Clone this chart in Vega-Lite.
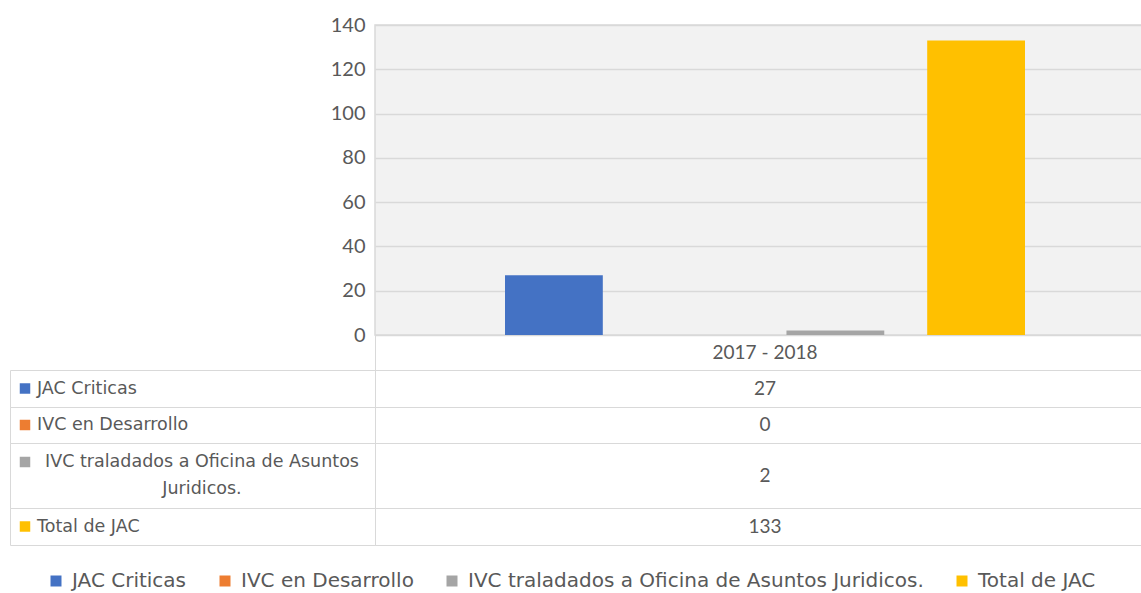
{
  "$schema": "https://vega.github.io/schema/vega-lite/v6.json",
  "padding": {"left": 9, "top": 14, "right": 0, "bottom": 5},
  "background": "white",
  "datasets": {
    "d": [
      {"periodo": "2017 - 2018", "serie": "JAC Criticas", "etiqueta": "JAC Criticas", "valor": 27},
      {"periodo": "2017 - 2018", "serie": "IVC en Desarrollo", "etiqueta": "IVC en Desarrollo", "valor": 0},
      {"periodo": "2017 - 2018", "serie": "IVC traladados a Oficina de Asuntos Juridicos.", "etiqueta": "IVC traladados a Oficina de Asuntos\nJuridicos.", "valor": 2},
      {"periodo": "2017 - 2018", "serie": "Total de JAC", "etiqueta": "Total de JAC", "valor": 133}
    ]
  },
  "columns": 2,
  "spacing": 0,
  "bounds": "flush",
  "concat": [
    {
      "width": 365, "height": 310,
      "view": {"stroke": null},
      "data": {"values": []},
      "mark": "text",
      "encoding": {}
    },
    {
      "width": 780, "height": 310,
      "view": {"fill": "#f2f2f2", "stroke": "#d9d9d9"},
      "data": {"name": "d"},
      "mark": {"type": "bar"},
      "encoding": {
        "x": {"field": "periodo", "type": "nominal", "scale": {"paddingInner": 0, "paddingOuter": 0.25}, "axis": null},
        "xOffset": {"field": "serie", "type": "nominal", "sort": ["JAC Criticas", "IVC en Desarrollo", "IVC traladados a Oficina de Asuntos Juridicos.", "Total de JAC"], "scale": {"paddingInner": 0.305, "paddingOuter": 0}},
        "y": {"field": "valor", "type": "quantitative", "scale": {"domain": [0, 140]},
          "axis": {"values": [0, 20, 40, 60, 80, 100, 120, 140], "title": null, "domain": false, "ticks": false, "labelPadding": 10, "labelFontSize": 20, "labelColor": "#595959", "labelFont": "Lato", "gridColor": "#d9d9d9", "gridWidth": 1.5}},
        "color": {"field": "serie", "type": "nominal",
          "scale": {"domain": ["JAC Criticas", "IVC en Desarrollo", "IVC traladados a Oficina de Asuntos Juridicos.", "Total de JAC"], "range": ["#4472C4", "#ED7D31", "#A5A5A5", "#FFC000"]},
          "legend": {"title": null, "orient": "none", "legendX": 36, "legendY": 546, "direction": "horizontal", "symbolType": "square", "symbolSize": 121, "labelFontSize": 20, "labelColor": "#595959", "labelFont": "DejaVu Sans", "labelLimit": 800, "columnPadding": 28, "labelOffset": 6, "symbolStrokeWidth": 0}}
      }
    },
    {
      "width": 365, "height": 35,
      "view": {"stroke": null},
      "data": {"values": []},
      "mark": "text",
      "encoding": {}
    },
    {
      "width": 780, "height": 35,
      "view": {"stroke": "#d9d9d9"},
      "data": {"name": "d"},
      "transform": [{"filter": "datum.serie === 'JAC Criticas'"}],
      "mark": {"type": "text", "x": 390, "y": 18, "align": "center", "baseline": "middle", "fontSize": 19, "font": "Lato", "color": "#595959"},
      "encoding": {"text": {"field": "periodo"}}
    },
    {
      "width": 365, "height": 37,
      "view": {"stroke": "#d9d9d9"},
      "data": {"name": "d"},
      "transform": [{"filter": "datum.serie === 'JAC Criticas'"}],
      "layer": [
        {"mark": {"type": "square", "x": 15, "y": 18.5, "size": 110, "opacity": 1},
         "encoding": {"color": {"field": "serie", "type": "nominal"}}},
        {"mark": {"type": "text", "x": 27, "y": 18.5, "align": "left", "baseline": "middle", "fontSize": 17.5, "font": "DejaVu Sans", "color": "#595959"},
         "encoding": {"text": {"field": "etiqueta"}}}
      ]
    },
    {
      "width": 780, "height": 37,
      "view": {"stroke": "#d9d9d9"},
      "data": {"name": "d"},
      "transform": [{"filter": "datum.serie === 'JAC Criticas'"}],
      "mark": {"type": "text", "x": 390, "y": 18.5, "align": "center", "baseline": "middle", "fontSize": 19, "font": "Lato", "color": "#595959"},
      "encoding": {"text": {"field": "valor"}}
    },
    {
      "width": 365, "height": 36,
      "view": {"stroke": "#d9d9d9"},
      "data": {"name": "d"},
      "transform": [{"filter": "datum.serie === 'IVC en Desarrollo'"}],
      "layer": [
        {"mark": {"type": "square", "x": 15, "y": 18, "size": 110, "opacity": 1},
         "encoding": {"color": {"field": "serie", "type": "nominal"}}},
        {"mark": {"type": "text", "x": 27, "y": 18, "align": "left", "baseline": "middle", "fontSize": 17.5, "font": "DejaVu Sans", "color": "#595959"},
         "encoding": {"text": {"field": "etiqueta"}}}
      ]
    },
    {
      "width": 780, "height": 36,
      "view": {"stroke": "#d9d9d9"},
      "data": {"name": "d"},
      "transform": [{"filter": "datum.serie === 'IVC en Desarrollo'"}],
      "mark": {"type": "text", "x": 390, "y": 18, "align": "center", "baseline": "middle", "fontSize": 19, "font": "Lato", "color": "#595959"},
      "encoding": {"text": {"field": "valor"}}
    },
    {
      "width": 365, "height": 65,
      "view": {"stroke": "#d9d9d9"},
      "data": {"name": "d"},
      "transform": [{"filter": "datum.serie === 'IVC traladados a Oficina de Asuntos Juridicos.'"}],
      "layer": [
        {"mark": {"type": "square", "x": 15, "y": 19, "size": 110, "opacity": 1},
         "encoding": {"color": {"field": "serie", "type": "nominal"}}},
        {"mark": {"type": "text", "x": 192, "y": 19, "align": "center", "baseline": "middle", "lineBreak": "\n", "lineHeight": 27, "fontSize": 17.5, "font": "DejaVu Sans", "color": "#595959"},
         "encoding": {"text": {"field": "etiqueta"}}}
      ]
    },
    {
      "width": 780, "height": 65,
      "view": {"stroke": "#d9d9d9"},
      "data": {"name": "d"},
      "transform": [{"filter": "datum.serie === 'IVC traladados a Oficina de Asuntos Juridicos.'"}],
      "mark": {"type": "text", "x": 390, "y": 32.5, "align": "center", "baseline": "middle", "fontSize": 19, "font": "Lato", "color": "#595959"},
      "encoding": {"text": {"field": "valor"}}
    },
    {
      "width": 365, "height": 37,
      "view": {"stroke": "#d9d9d9"},
      "data": {"name": "d"},
      "transform": [{"filter": "datum.serie === 'Total de JAC'"}],
      "layer": [
        {"mark": {"type": "square", "x": 15, "y": 18.5, "size": 110, "opacity": 1},
         "encoding": {"color": {"field": "serie", "type": "nominal"}}},
        {"mark": {"type": "text", "x": 27, "y": 18.5, "align": "left", "baseline": "middle", "fontSize": 17.5, "font": "DejaVu Sans", "color": "#595959"},
         "encoding": {"text": {"field": "etiqueta"}}}
      ]
    },
    {
      "width": 780, "height": 37,
      "view": {"stroke": "#d9d9d9"},
      "data": {"name": "d"},
      "transform": [{"filter": "datum.serie === 'Total de JAC'"}],
      "mark": {"type": "text", "x": 390, "y": 18.5, "align": "center", "baseline": "middle", "fontSize": 19, "font": "Lato", "color": "#595959"},
      "encoding": {"text": {"field": "valor"}}
    }
  ],
  "config": {
    "view": {"strokeWidth": 1.5},
    "font": "Lato"
  }
}
